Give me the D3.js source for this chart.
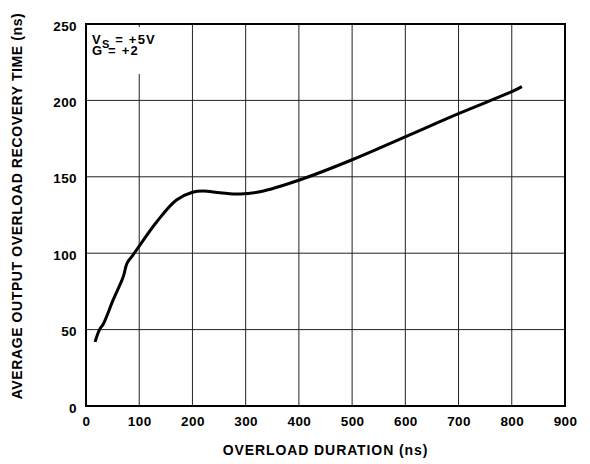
<!DOCTYPE html>
<html>
<head>
<meta charset="utf-8">
<script src="https://cdn.jsdelivr.net/npm/d3@7"></script>
<style>
  body { margin: 0; background: #fff; }
  text { font-family: "Liberation Sans", Arial, sans-serif; font-weight: bold; fill: #000; }
</style>
</head>
<body>
<div id="chart"></div>
<script>
// overload duration (ns) vs recovery time (ns)
const durationNs = [17, 25, 33, 51, 70, 77, 86, 100, 133, 170, 200, 220, 252, 290, 327, 401, 499, 600, 701, 800, 819];
const recoveryNs = [42, 49.7, 54, 69.4, 84.6, 93.4, 97.7, 104.7, 120.6, 134.8, 139.9, 140.7, 139.6, 138.7, 140.2, 147.9, 161, 176.2, 191.5, 205.7, 209];
const xTicks = [0, 100, 200, 300, 400, 500, 600, 700, 800, 900];
const yTicks = [0, 50, 100, 150, 200, 250];

const W = 590, H = 464;
const margin = { top: 24, right: 25, bottom: 58, left: 86 };
const width = W - margin.left - margin.right;
const height = H - margin.top - margin.bottom;

const svg = d3.select('#chart').append('svg')
    .attr('width', W)
    .attr('height', H);

const g = svg.append('g')
    .attr('transform', `translate(${margin.left},${margin.top})`);

const x = d3.scaleLinear().domain([0, 900]).range([0, width]);
const y = d3.scaleLinear().domain([0, 250]).range([height, 0]);

// grid
g.append('g')
    .selectAll('line')
    .data(xTicks.slice(1, -1))
    .join('line')
    .attr('x1', d => x(d)).attr('x2', d => x(d))
    .attr('y1', 0).attr('y2', height)
    .attr('stroke', '#222').attr('stroke-width', 1);

g.append('g')
    .selectAll('line')
    .data(yTicks.slice(1, -1))
    .join('line')
    .attr('x1', 0).attr('x2', width)
    .attr('y1', d => y(d)).attr('y2', d => y(d))
    .attr('stroke', '#222').attr('stroke-width', 1);

// white box behind the annotation
g.append('rect')
    .attr('x', 1).attr('y', 3)
    .attr('width', 76).attr('height', 47)
    .attr('fill', '#fff');

const ann = g.append('text')
    .attr('x', 6).attr('y', 20)
    .style('font-size', '13px')
    .style('letter-spacing', '1.2px');
ann.append('tspan').text('V');
ann.append('tspan').attr('dy', 4).style('font-size', '11px').text('S');
ann.append('tspan').attr('dy', -4).text(' = +5V');
g.append('text')
    .attr('x', 6).attr('y', 31)
    .style('font-size', '13px')
    .style('letter-spacing', '1.2px')
    .text('G = +2');

// frame
g.append('rect')
    .attr('width', width).attr('height', height)
    .attr('fill', 'none')
    .attr('stroke', '#000').attr('stroke-width', 2);

// curve
const line = d3.line()
    .x((d, i) => x(durationNs[i]))
    .y(d => y(d))
    .curve(d3.curveCatmullRom.alpha(0.5));

g.append('path')
    .datum(recoveryNs)
    .attr('d', line)
    .attr('fill', 'none')
    .attr('stroke', '#000')
    .attr('stroke-width', 3)
    .attr('stroke-linejoin', 'round');

// axes
const xAxis = d3.axisBottom(x).tickValues(xTicks).tickSize(0).tickPadding(10);
const yAxis = d3.axisLeft(y).tickValues(yTicks).tickSize(0).tickPadding(9);

const xa = g.append('g').attr('transform', `translate(0,${height})`).call(xAxis);
const ya = g.append('g').call(yAxis);
[xa, ya].forEach(a => {
    a.select('.domain').remove();
    a.selectAll('text')
        .style('font-size', '13.5px')
        .style('letter-spacing', '0.4px')
        .style('font-family', '"Liberation Sans", Arial, sans-serif')
        .style('font-weight', 'bold');
});
ya.selectAll('text').attr('dy', '0.45em');

svg.append('text')
    .attr('x', margin.left + width / 2)
    .attr('y', 455)
    .attr('text-anchor', 'middle')
    .style('font-size', '14px')
    .style('letter-spacing', '0.9px')
    .text('OVERLOAD DURATION (ns)');

svg.append('text')
    .attr('transform', `translate(22,${206}) rotate(-90)`)
    .attr('text-anchor', 'middle')
    .style('font-size', '14px')
    .style('letter-spacing', '0.6px')
    .text('AVERAGE OUTPUT OVERLOAD RECOVERY TIME (ns)');
</script>
</body>
</html>
